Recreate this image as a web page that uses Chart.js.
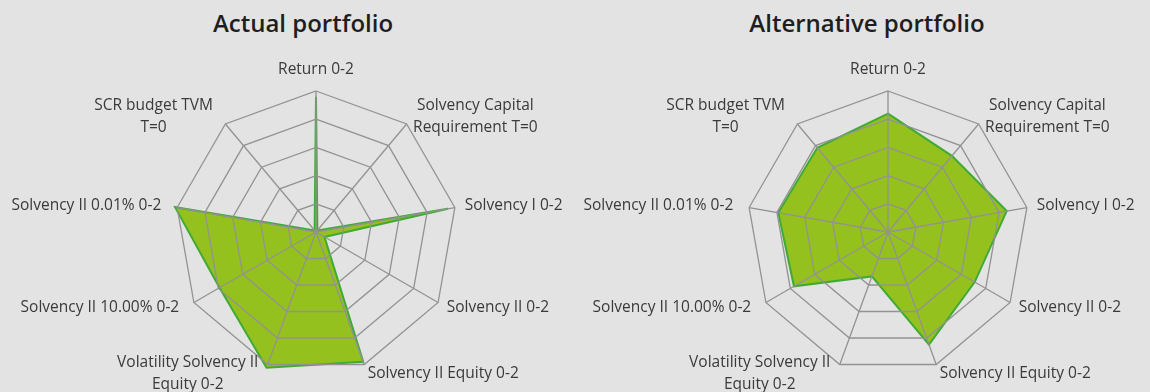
<!DOCTYPE html>
<html>
<head>
<meta charset="utf-8">
<script src="https://cdn.jsdelivr.net/npm/chart.js@4/dist/chart.umd.min.js"></script>
<style>
    html, body { margin: 0; padding: 0; }
    body { width: 1150px; height: 392px; background: #e3e3e3; overflow: hidden; position: relative; font-family: "Open Sans", sans-serif; }
    .title { position: absolute; top: 6px; width: 400px; text-align: center; font-size: 24px; font-weight: 600; color: #1e1e1e; }
    canvas { position: absolute; top: 0; }
</style>
</head>
<body>
<div class="title" style="left:103px">Actual portfolio</div>
<div class="title" style="left:667px">Alternative portfolio</div>
<canvas id="actualChart" width="632" height="392" style="left:0px"></canvas>
<canvas id="altChart" width="632" height="392" style="left:572px"></canvas>
<script>
// categories (multi-line labels as arrays)
const categories = [
    ['Return 0-2'],
    ['Solvency Capital', 'Requirement T=0'],
    ['Solvency I 0-2'],
    ['Solvency II 0-2'],
    ['Solvency II Equity 0-2'],
    ['Volatility Solvency II', 'Equity 0-2'],
    ['Solvency II 10.00% 0-2'],
    ['Solvency II 0.01% 0-2'],
    ['SCR budget TVM', 'T=0']
];
const actualValues = [1.92, 0.03, 1.9, 0.14, 1.96, 2.05, 1.58, 2.03, 0.03];
const alternativeValues = [1.68, 1.41, 1.71, 1.42, 1.70, 0.67, 1.54, 1.58, 1.56];
const scaleMin = 0;
const scaleMax = 2;
const scaleStep = 0.4;

// draws the axis labels next to each spoke, Excel-style
const spokeLabels = {
    id: 'spokeLabels',
    afterDraw(chart) {
        const scale = chart.scales.r;
        const ctx = chart.ctx;
        const lineH = 22;
        ctx.save();
        ctx.font = '15.5px "Open Sans", sans-serif';
        ctx.fillStyle = '#3a3a3a';
        ctx.textBaseline = 'middle';
        ctx.textAlign = 'center';
        categories.forEach((lines, i) => {
            const deg = Math.round(scale.getIndexAngle(i) * 180 / Math.PI) % 360;
            const pos = scale.getPointPosition(i, scale.drawingArea + 10);
            const blockW = Math.max(...lines.map(l => ctx.measureText(l).width));
            const blockH = lines.length * lineH;
            let cx, top;
            if (deg === 0) {
                cx = pos.x;
                top = pos.y - blockH;
            } else if (deg < 180) {
                cx = pos.x + blockW / 2;
                top = pos.y - blockH / 2;
            } else {
                cx = pos.x - 6 - blockW / 2;
                top = pos.y - blockH / 2;
            }
            lines.forEach((l, k) => ctx.fillText(l, cx, top + lineH * k + lineH / 2));
        });
        ctx.restore();
    }
};

function makeRadar(id, values) {
    const ctx = document.getElementById(id).getContext('2d');
    return new Chart(ctx, {
        type: 'radar',
        data: {
            labels: categories,
            datasets: [{
                data: values,
                backgroundColor: '#95c11f',
                borderColor: '#3faa35',
                borderWidth: 2,
                pointRadius: 0,
                fill: true,
                clip: false
            }]
        },
        options: {
            responsive: false,
            animation: false,
            layout: { padding: { left: 175, right: 175, top: 91, bottom: 19 } },
            plugins: { legend: { display: false }, tooltip: { enabled: false } },
            scales: {
                r: {
                    min: scaleMin,
                    max: scaleMax,
                    ticks: { display: false, stepSize: scaleStep },
                    grid: { color: '#929292', lineWidth: 1.3, z: 1 },
                    angleLines: { color: '#929292', lineWidth: 1.3 },
                    pointLabels: { display: false }
                }
            }
        },
        plugins: [spokeLabels]
    });
}

makeRadar('actualChart', actualValues);
makeRadar('altChart', alternativeValues);
</script>
</body>
</html>
